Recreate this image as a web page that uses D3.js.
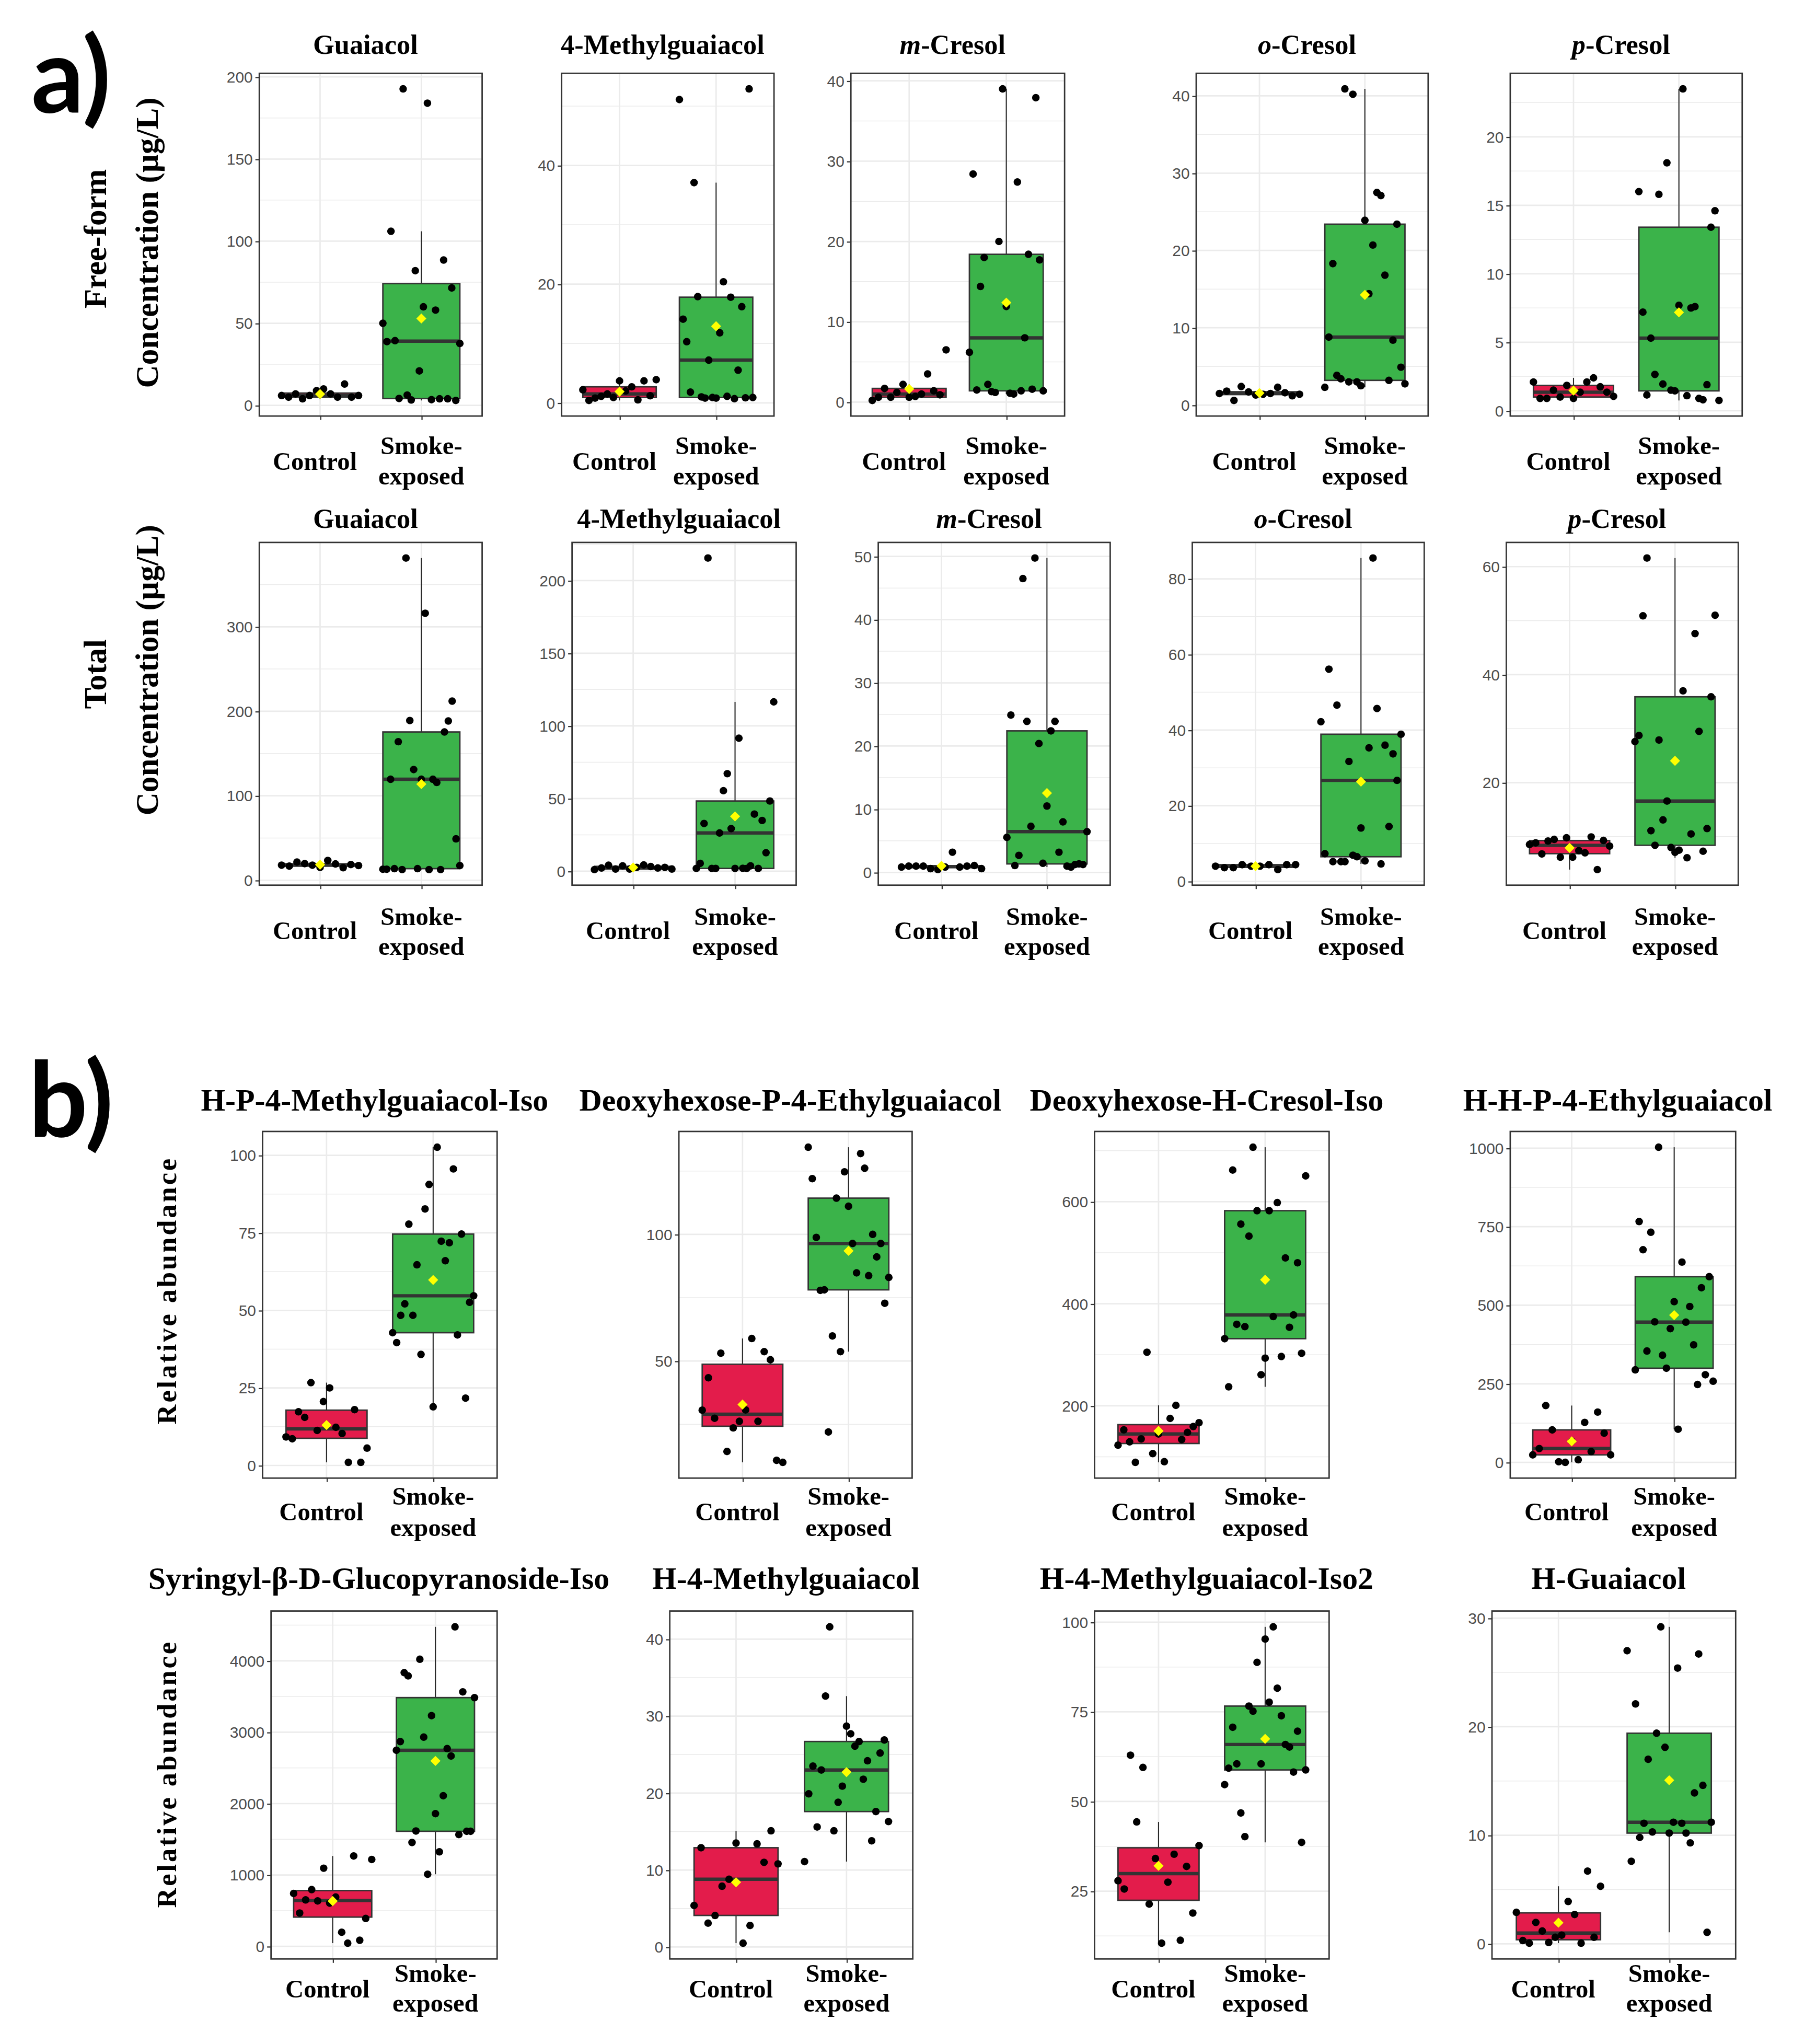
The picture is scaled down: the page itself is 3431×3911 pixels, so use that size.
<!DOCTYPE html>
<html>
<head>
<meta charset="utf-8">
<script src="https://cdn.jsdelivr.net/npm/d3@7"></script>
<style>
  body { margin: 0; background: #fff; }
</style>
</head>
<body>
<div id="chart"></div>
<script>
// picture is laid out on a 1376 x 1568 grid and scaled up by the viewBox
const W = 3431, H = 3911;
const VW = 1376, VH = 1568;

const groups = ["Control", "Smoke-exposed"];

// ---- a) free-form concentration (ug/L), values in left-to-right jitter order
const freeGuaiacolCtrl = [6, 5, 7, 4, 6, 9, 10, 7, 5, 13, 5, 6];
const freeGuaiacolSmoke = [50, 38.8, 106, 39.4, 4.2, 192.7, 6.3, 3.3, 82, 21, 60, 184, 3.5, 58, 4, 88.5, 4, 71.5, 3, 37.7];
const free4MGCtrl = [2.2, 0.4, 0.8, 1.1, 1.5, 0.9, 3.7, 2.0, 2.7, 0.5, 3.7, 1.2, 3.9];
const free4MGSmoke = [51.1, 14.1, 10.3, 1.8, 37.1, 17.9, 1.0, 0.8, 7.2, 0.9, 0.8, 11.8, 20.4, 1.1, 17.8, 0.7, 5.5, 16.2, 0.85, 52.9, 0.9];
const freeMCresolCtrl = [0.2, 0.6, 1.7, 0.6, 1.2, 2.2, 0.6, 0.7, 1.0, 3.5, 1.4, 0.9, 6.5];
const freeMCresolSmoke = [6.2, 28.4, 1.5, 14.4, 18.0, 2.2, 1.3, 1.2, 20, 39, 11.9, 1.1, 1.0, 27.4, 1.4, 8.0, 18.4, 1.6, 37.9, 17.7, 1.4];
const freeOCresolCtrl = [1.5, 1.8, 0.6, 2.4, 1.7, 1.3, 1.4, 1.5, 2.3, 1.6, 1.2, 1.4];
const freeOCresolSmoke = [2.3, 8.8, 18.3, 3.85, 3.4, 40.9, 3.0, 40.2, 3.0, 2.5, 23.9, 14.4, 20.7, 27.5, 27.1, 16.8, 3.2, 8.4, 23.4, 4.9, 2.75];
const freePCresolCtrl = [2.1, 0.9, 0.9, 1.5, 1.0, 1.85, 0.9, 1.35, 2.1, 2.4, 1.75, 1.35, 1.05];
const freePCresolSmoke = [16.0, 7.2, 1.15, 5.3, 2.65, 15.8, 1.95, 18.1, 1.5, 1.45, 7.7, 23.5, 1.1, 7.5, 7.6, 0.9, 0.8, 1.9, 13.4, 14.6, 0.75];

// ---- a) total concentration (ug/L)
const totGuaiacolCtrl = [17.8, 16.7, 21.5, 19.7, 17.8, 15.2, 23.4, 19.3, 14.8, 18.6, 17.4];
const totGuaiacolSmoke = [13, 13, 119.5, 13.7, 164, 12.6, 381.4, 189, 131, 13.7, 119.5, 316, 12.6, 119.5, 115.8, 12.6, 175.5, 188.5, 212, 49, 17.4];
const tot4MGCtrl = [1.1, 2.2, 4.1, 1.5, 3.7, 1.5, 2.6, 4.3, 3.2, 2.2, 2.6, 1.5];
const tot4MGSmoke = [1.9, 5.4, 32.8, 215.5, 1.9, 1.9, 26.3, 55.4, 67.1, 29.3, 1.9, 91.5, 2.0, 1.9, 3.7, 39.3, 1.9, 34.9, 12.7, 48.3, 116.5];
const totMCresolCtrl = [0.85, 1.0, 1.0, 1.0, 0.6, 0.45, 0.85, 3.2, 0.85, 1.0, 1.1, 0.6];
const totMCresolSmoke = [5.55, 24.9, 1.1, 2.7, 46.5, 23.9, 7.3, 49.75, 20.4, 1.45, 10.5, 22.4, 23.9, 3.2, 8.0, 1.0, 0.85, 1.25, 1.35, 1.25, 6.45];
const totOCresolCtrl = [4.0, 3.6, 3.6, 4.4, 4.0, 4.0, 4.4, 3.1, 4.4, 4.4];
const totOCresolSmoke = [42.2, 7.3, 56.1, 5.2, 46.6, 5.2, 5.2, 31.7, 6.9, 6.5, 14.1, 5.4, 35.3, 85.5, 45.7, 4.6, 36.0, 14.5, 33.7, 26.7, 38.9];
const totPCresolCtrl = [8.55, 8.85, 6.8, 9.2, 9.5, 6.2, 9.8, 6.2, 7.4, 7.0, 9.95, 3.9, 9.3, 8.25];
const totPCresolSmoke = [27.6, 28.75, 50.9, 61.6, 11.1, 8.4, 27.9, 13.1, 16.6, 8.0, 7.1, 7.5, 37.0, 6.1, 10.5, 47.6, 29.5, 7.3, 11.5, 35.9, 51.0];

// ---- b) relative abundance
const hp4mgIsoCtrl = [9.2, 8.6, 17.3, 15.5, 26.7, 11.3, 20.6, 25, 12.3, 10.3, 1.0, 18.0, 1.0, 5.6];
const hp4mgIsoSmoke = [42.8, 39.6, 48.4, 52.1, 77.8, 48.4, 64.7, 35.8, 82.7, 90.6, 18.9, 102.6, 72.3, 66.0, 71.8, 95.6, 42.1, 74.6, 21.7, 52.6, 54.7];
const dxhP4egCtrl = [30.6, 43.4, 27.4, 53.1, 14.3, 23.6, 26.2, 30.7, 58.9, 26.2, 53.7, 50.5, 10.8, 10.0];
const dxhP4egSmoke = [134.4, 122.0, 98.8, 77.9, 78.1, 22.0, 59.9, 114.3, 53.7, 124.7, 111.1, 96.4, 84.8, 131.9, 126.1, 83.7, 100, 91.1, 96.4, 72.8, 83.0];
const dxhHCresolCtrl = [123, 153, 129.5, 89.3, 135.2, 305, 106.5, 145, 90.6, 175.4, 201, 134, 148, 159.5, 167];
const dxhHCresolSmoke = [331.7, 237.3, 662.2, 359.8, 556.3, 355.3, 532.7, 706.9, 582.5, 261, 293.5, 582.5, 375.1, 598.4, 296.7, 490, 354, 378.3, 480.4, 303, 650.7];
const hhP4egCtrl = [23.8, 44, 180.8, 103.3, 2, 0, 67.1, 8.3, 127, 34.1, 160, 93, 23.8];
const hhP4egSmoke = [294.4, 766.5, 676.7, 354.3, 732.4, 447.3, 1003, 341, 299.6, 425.6, 511.4, 105.4, 637.4, 446.3, 495.9, 374, 247.9, 555.8, 278.9, 590.9, 258.3];
const syringylCtrl = [741, 467, 651, 795, 637, 1095, 606, 691, 198, 45, 1266, 85, 391, 1217];
const syringylSmoke = [2747, 2869, 3834, 3789, 1455, 1616, 4022, 2931, 1010, 3232, 1859, 1324, 2110, 2770, 2667, 4476, 1567, 3565, 1612, 1612, 3484];
const h4mgCtrl = [5.4, 12.9, 3.1, 4.1, 7.9, 8.8, 13.5, 0.5, 2.8, 13.4, 11.0, 15.1, 10.8];
const h4mgSmoke = [11.1, 19.9, 23.5, 15.6, 23.0, 32.6, 41.6, 15.1, 18.8, 20.9, 28.7, 27.7, 26.1, 26.7, 21.8, 24.2, 13.8, 17.6, 25.2, 26.9, 16.3];
const h4mgIso2Ctrl = [27.9, 25.6, 62.9, 44.3, 59.5, 21.4, 34.1, 10.5, 27.5, 35.3, 11.3, 31.9, 18.9, 37.7];
const h4mgIso2Smoke = [54.7, 59.3, 70.7, 60.5, 46.8, 40.2, 76.6, 75.2, 88.8, 60.5, 95.3, 77.7, 98.7, 81.6, 73.9, 65.9, 65.2, 58.2, 69.6, 38.6, 58.8];
const hGuaiacolCtrl = [2.9, 0.3, 0.06, 1.97, 1.18, 0.12, 0.6, 0.8, 3.9, 2.7, 0.06, 6.7, 0.6, 5.3];
const hGuaiacolSmoke = [27.0, 7.6, 22.1, 9.8, 11.1, 17.0, 10.3, 19.4, 29.2, 18.1, 10.2, 11.2, 25.4, 11.1, 10.2, 9.3, 13.9, 26.7, 14.6, 1.06, 11.2];

// titles: [italic part, upright part]
const compoundTitles = [["", "Guaiacol"], ["", "4-Methylguaiacol"], ["m", "-Cresol"], ["o", "-Cresol"], ["p", "-Cresol"]];
const bTitlesTop = ["H-P-4-Methylguaiacol-Iso", "Deoxyhexose-P-4-Ethylguaiacol", "Deoxyhexose-H-Cresol-Iso", "H-H-P-4-Ethylguaiacol"];
const bTitlesBottom = ["Syringyl-\u03B2-D-Glucopyranoside-Iso", "H-4-Methylguaiacol", "H-4-Methylguaiacol-Iso2", "H-Guaiacol"];

// y tick labels per panel
const freeTicks = [[0, 50, 100, 150, 200], [0, 20, 40], [0, 10, 20, 30, 40], [0, 10, 20, 30, 40], [0, 5, 10, 15, 20]];
const totalTicks = [[0, 100, 200, 300], [0, 50, 100, 150, 200], [0, 10, 20, 30, 40, 50], [0, 20, 40, 60, 80], [20, 40, 60]];
const bTopTicks = [[0, 25, 50, 75, 100], [50, 100], [200, 400, 600], [0, 250, 500, 750, 1000]];
const bBottomTicks = [[0, 1000, 2000, 3000, 4000], [0, 10, 20, 30, 40], [25, 50, 75, 100], [0, 10, 20, 30]];

const freeData = [[freeGuaiacolCtrl, freeGuaiacolSmoke], [free4MGCtrl, free4MGSmoke], [freeMCresolCtrl, freeMCresolSmoke], [freeOCresolCtrl, freeOCresolSmoke], [freePCresolCtrl, freePCresolSmoke]];
const totalData = [[totGuaiacolCtrl, totGuaiacolSmoke], [tot4MGCtrl, tot4MGSmoke], [totMCresolCtrl, totMCresolSmoke], [totOCresolCtrl, totOCresolSmoke], [totPCresolCtrl, totPCresolSmoke]];
const bTopData = [[hp4mgIsoCtrl, hp4mgIsoSmoke], [dxhP4egCtrl, dxhP4egSmoke], [dxhHCresolCtrl, dxhHCresolSmoke], [hhP4egCtrl, hhP4egSmoke]];
const bBottomData = [[syringylCtrl, syringylSmoke], [h4mgCtrl, h4mgSmoke], [h4mgIso2Ctrl, h4mgIso2Smoke], [hGuaiacolCtrl, hGuaiacolSmoke]];

const fillColors = ["#E31C4B", "#3BB34A"];
const serif = "'Liberation Serif', 'Times New Roman', serif";
const sans = "'Liberation Sans', Arial, sans-serif";

// row layout
const rows = [
  { top: 56, bottom: 319, titleY: 41, titleSize: 21, labY: [354, 342, 365],
    xs: [[199, 370], [431, 594], [653, 817], [918, 1096], [1159, 1337]],
    titles: compoundTitles, ticks: freeTicks, data: freeData },
  { top: 416, bottom: 679, titleY: 405, titleSize: 21, labY: [714, 703, 726],
    xs: [[199, 370], [439, 611], [674, 852], [915, 1093], [1156, 1334]],
    titles: compoundTitles, ticks: totalTicks, data: totalData },
  { top: 868, bottom: 1134, titleY: 852, titleSize: 24, labY: [1160, 1148, 1172],
    xs: [[201.5, 381.5], [521, 700], [840, 1020], [1159, 1332]],
    titles: bTitlesTop.map(t => ["", t]), ticks: bTopTicks, data: bTopData },
  { top: 1236, bottom: 1503, titleY: 1219, titleSize: 24, labY: [1526, 1514, 1537],
    xs: [[208, 381.5], [514, 700.5], [840, 1020], [1145, 1332]],
    titles: bTitlesBottom.map(t => ["", t]), ticks: bBottomTicks, data: bBottomData }
];

const svg = d3.select("#chart").append("svg")
  .attr("width", W).attr("height", H)
  .attr("viewBox", [0, 0, VW, VH]);

svg.append("rect").attr("width", VW).attr("height", VH).attr("fill", "#fff");

function boxStats(vals) {
  const s = vals.slice().sort(d3.ascending);
  const q1 = d3.quantile(s, 0.25), med = d3.quantile(s, 0.5), q3 = d3.quantile(s, 0.75);
  const iqr = q3 - q1;
  const lo = d3.min(s.filter(v => v >= q1 - 1.5 * iqr));
  const hi = d3.max(s.filter(v => v <= q3 + 1.5 * iqr));
  return { q1, med, q3, lo, hi, mean: d3.mean(s) };
}

function drawPanel(row, i) {
  const [x0, x1] = row.xs[i];
  const top = row.top, bottom = row.bottom;
  const series = row.data[i];
  const ticks = row.ticks[i];

  const all = series[0].concat(series[1]);
  const [lo, hi] = d3.extent(all);
  const pad = (hi - lo) * 0.05;
  const y = d3.scaleLinear().domain([lo - pad, hi + pad]).range([bottom, top]);
  const x = d3.scalePoint().domain(groups).range([x0, x1]).padding(0.6);
  const step = x.step();

  const g = svg.append("g");

  g.append("rect")
    .attr("x", x0).attr("y", top)
    .attr("width", x1 - x0).attr("height", bottom - top)
    .attr("fill", "#fff");

  // grid lines
  const dt = ticks.length > 1 ? ticks[1] - ticks[0] : 1;
  const [d0, d1] = y.domain();
  const minor = [ticks[0] - dt / 2].concat(ticks.map(v => v + dt / 2))
    .filter(v => v > d0 && v < d1);

  g.selectAll(".minor").data(minor).join("line")
    .attr("x1", x0).attr("x2", x1)
    .attr("y1", d => y(d)).attr("y2", d => y(d))
    .attr("stroke", "#EBEBEB").attr("stroke-width", 0.6);

  g.selectAll(".major").data(ticks).join("line")
    .attr("x1", x0).attr("x2", x1)
    .attr("y1", d => y(d)).attr("y2", d => y(d))
    .attr("stroke", "#EBEBEB").attr("stroke-width", 1.1);

  g.selectAll(".vgrid").data(groups).join("line")
    .attr("x1", d => x(d)).attr("x2", d => x(d))
    .attr("y1", top).attr("y2", bottom)
    .attr("stroke", "#EBEBEB").attr("stroke-width", 1.1);

  // boxes
  const bw = step * 0.76;
  series.forEach((vals, k) => {
    const s = boxStats(vals);
    const cx = x(groups[k]);
    g.append("line")
      .attr("x1", cx).attr("x2", cx)
      .attr("y1", y(s.lo)).attr("y2", y(s.q1))
      .attr("stroke", "#222").attr("stroke-width", 0.8);
    g.append("line")
      .attr("x1", cx).attr("x2", cx)
      .attr("y1", y(s.q3)).attr("y2", y(s.hi))
      .attr("stroke", "#222").attr("stroke-width", 0.8);
    g.append("rect")
      .attr("x", cx - bw / 2).attr("y", y(s.q3))
      .attr("width", bw).attr("height", Math.max(0.5, y(s.q1) - y(s.q3)))
      .attr("fill", fillColors[k])
      .attr("stroke", "#333").attr("stroke-width", 1.1);
    g.append("line")
      .attr("x1", cx - bw / 2).attr("x2", cx + bw / 2)
      .attr("y1", y(s.med)).attr("y2", y(s.med))
      .attr("stroke", "#333").attr("stroke-width", 2.6);
  });

  // jittered points, spread across the band in listed order
  series.forEach((vals, k) => {
    const cx = x(groups[k]);
    const n = vals.length;
    const jw = step * 0.38;
    g.selectAll(".pt" + k).data(vals).join("circle")
      .attr("cx", (d, j) => cx - jw + (2 * jw) * (n > 1 ? j / (n - 1) : 0.5))
      .attr("cy", d => y(d))
      .attr("r", 2.9)
      .attr("fill", "#000");
  });

  // mean diamond
  series.forEach((vals, k) => {
    g.append("path")
      .attr("d", d3.symbol(d3.symbolSquare, 30)())
      .attr("transform", `translate(${x(groups[k])},${y(d3.mean(vals))}) rotate(45)`)
      .attr("fill", "#FFFF00");
  });

  // panel border
  g.append("rect")
    .attr("x", x0).attr("y", top)
    .attr("width", x1 - x0).attr("height", bottom - top)
    .attr("fill", "none")
    .attr("stroke", "#333").attr("stroke-width", 1.1);

  // y axis
  const ya = g.append("g")
    .attr("transform", `translate(${x0},0)`)
    .call(d3.axisLeft(y).tickValues(ticks).tickFormat(d3.format("d")).tickSize(3).tickPadding(2));
  ya.select(".domain").remove();
  ya.selectAll(".tick line").attr("stroke", "#333").attr("stroke-width", 0.9);
  ya.selectAll(".tick text")
    .attr("fill", "#4D4D4D")
    .style("font-family", sans)
    .style("font-size", "12px");

  // x axis ticks
  const xa = g.append("g")
    .attr("transform", `translate(0,${bottom})`)
    .call(d3.axisBottom(x).tickSize(3).tickFormat(""));
  xa.select(".domain").remove();
  xa.selectAll(".tick line").attr("stroke", "#333").attr("stroke-width", 0.9);

  // category labels
  const labStyle = sel => sel
    .attr("text-anchor", "middle")
    .attr("dominant-baseline", "central")
    .style("font-family", serif)
    .style("font-weight", "bold")
    .style("font-size", "19.5px")
    .attr("fill", "#000");
  g.append("text").attr("x", x(groups[0]) - 4).attr("y", row.labY[0])
    .text("Control").call(labStyle);
  g.append("text").attr("x", x(groups[1])).attr("y", row.labY[1])
    .text("Smoke-").call(labStyle);
  g.append("text").attr("x", x(groups[1])).attr("y", row.labY[2])
    .text("exposed").call(labStyle);

  // panel title
  const [ital, rest] = row.titles[i];
  const t = g.append("text")
    .attr("x", (x0 + x1) / 2 - 4).attr("y", row.titleY)
    .attr("text-anchor", "middle")
    .style("font-family", serif)
    .style("font-weight", "bold")
    .style("font-size", row.titleSize + "px");
  if (ital) t.append("tspan").style("font-style", "italic").text(ital);
  t.append("tspan").text(rest);
}

rows.forEach(row => row.xs.forEach((_, i) => drawPanel(row, i)));

// axis titles
const yTitles = [
  { x: 73, y: 183, text: "Free-form", size: 24.5, ls: 0 },
  { x: 113, y: 186, text: "Concentration (\u00B5g/L)", size: 24.5, ls: 0 },
  { x: 73, y: 517, text: "Total", size: 24.5, ls: 0 },
  { x: 113, y: 514, text: "Concentration (\u00B5g/L)", size: 24.5, ls: 0 },
  { x: 128, y: 990, text: "Relative abundance", size: 21, ls: 1.6 },
  { x: 128, y: 1361, text: "Relative abundance", size: 21, ls: 1.6 }
];
svg.selectAll(".ytitle").data(yTitles).join("text")
  .attr("transform", d => `translate(${d.x},${d.y}) rotate(-90)`)
  .attr("text-anchor", "middle")
  .attr("dominant-baseline", "central")
  .style("font-family", serif)
  .style("font-weight", "bold")
  .style("font-size", d => d.size + "px")
  .style("letter-spacing", d => d.ls + "px")
  .text(d => d.text);

// part letters
svg.selectAll(".part").data([{ t: "a)", x: 24, y: 86 }, { t: "b)", x: 22, y: 872 }]).join("text")
  .attr("x", d => d.x).attr("y", d => d.y)
  .style("font-family", "Lato, 'Open Sans', sans-serif")
  .style("font-weight", "bold")
  .style("font-size", "80px")
  .text(d => d.t);
</script>
</body>
</html>
